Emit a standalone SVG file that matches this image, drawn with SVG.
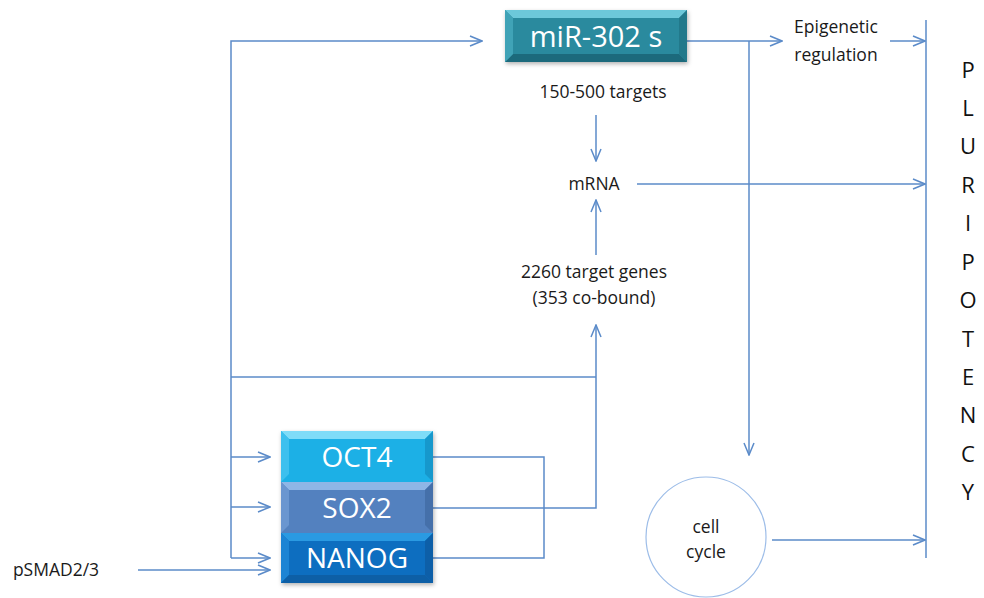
<svg xmlns="http://www.w3.org/2000/svg" width="984" height="598" viewBox="0 0 984 598">
<style>
.ln{fill:none;stroke:#5b8bc9;stroke-width:1.5}
.t{font-family:"Open Sans","Liberation Sans",sans-serif;fill:#1a1a1a;font-size:17.5px;text-anchor:middle}
.big{font-family:"Open Sans","Liberation Sans",sans-serif;fill:#fff;text-anchor:middle}
.pl{font-family:"Open Sans","Liberation Sans",sans-serif;fill:#111;font-size:22px;text-anchor:middle}
</style>
<defs>
<marker id="ah" markerWidth="14" markerHeight="12" refX="13" refY="6" orient="auto" markerUnits="userSpaceOnUse">
<path d="M1,1 L13,6 L1,11" fill="none" stroke="#5b8bc9" stroke-width="1.5"/>
</marker>
<filter id="sh" x="-10%" y="-10%" width="130%" height="140%"><feDropShadow dx="1" dy="2" stdDeviation="2" flood-color="#000" flood-opacity="0.3"/></filter>
</defs>
<rect width="984" height="598" fill="#fff"/>
<g id="connectors">
<path class="ln" d="M231,558 V41 H482" marker-end="url(#ah)"/>
<path class="ln" d="M231,377 H596"/>
<path class="ln" d="M231,457 H270" marker-end="url(#ah)"/>
<path class="ln" d="M231,507 H270" marker-end="url(#ah)"/>
<path class="ln" d="M231,558 H270" marker-end="url(#ah)"/>
<path class="ln" d="M138,570 H270" marker-end="url(#ah)"/>
<path class="ln" d="M433,457 H544 V558 H433"/>
<path class="ln" d="M433,508 H596 V325" marker-end="url(#ah)"/>
<path class="ln" d="M596,255 V200" marker-end="url(#ah)"/>
<path class="ln" d="M596,115 V161" marker-end="url(#ah)"/>
<path class="ln" d="M687,41 H782" marker-end="url(#ah)"/>
<path class="ln" d="M749,41 V455" marker-end="url(#ah)"/>
<path class="ln" d="M890,41 H925" marker-end="url(#ah)"/>
<path class="ln" d="M637,184 H925" marker-end="url(#ah)"/>
<path class="ln" d="M772,540 H925" marker-end="url(#ah)"/>
<path class="ln" d="M926,20 V558"/>
</g>
<g id="mir302">
<g filter="url(#sh)">
<rect x="505" y="10" width="182" height="52" fill="#2c8a9e"/>
<polygon points="505,10 687,10 679,18 513,18" fill="#6cc8da"/>
<polygon points="505,62 687,62 679,54 513,54" fill="#1f6b7c"/>
<polygon points="505,10 513,18 513,54 505,62" fill="#3fa3b7"/>
<polygon points="687,10 679,18 679,54 687,62" fill="#24798b"/>
</g>
<text class="big" x="596" y="47" font-size="29">miR-302 s</text>
</g>
<g id="targets150"><text class="t" x="603" y="98">150-500 targets</text></g>
<g id="mrna"><text class="t" x="594" y="190">mRNA</text></g>
<g id="targets2260">
<text class="t" x="594" y="278">2260 target genes</text>
<text class="t" x="594" y="304">(353 co-bound)</text>
</g>
<g id="epigenetic">
<text class="t" x="836" y="33">Epigenetic</text>
<text class="t" x="836" y="61">regulation</text>
</g>
<g id="tfbox">
<g filter="url(#sh)">
<rect x="281" y="431" width="152" height="51" fill="#1cb0e6"/>
<polygon points="281,431 433,431 425,439 289,439" fill="#7fdcf8"/>
<polygon points="281,431 289,439 289,474 281,482" fill="#3cc0ee"/>
<polygon points="433,431 425,439 425,474 433,482" fill="#1898cc"/>
<rect x="281" y="482" width="152" height="51" fill="#5281bf"/>
<polygon points="281,482 433,482 425,490 289,490" fill="#8fb6e6"/>
<polygon points="281,482 289,490 289,525 281,533" fill="#6a96d0"/>
<polygon points="433,482 425,490 425,525 433,533" fill="#4470aa"/>
<rect x="281" y="533" width="152" height="50" fill="#0a6ec0"/>
<polygon points="281,533 433,533 425,541 289,541" fill="#2b9ae2"/>
<polygon points="281,533 289,541 289,575 281,583" fill="#1a84d4"/>
<polygon points="433,533 425,541 425,575 433,583" fill="#085ea8"/>
<polygon points="281,583 433,583 425,575 289,575" fill="#0a5ea6"/>
</g>
<text class="big" x="357" y="467" font-size="28">OCT4</text>
<text class="big" x="357" y="518" font-size="28">SOX2</text>
<text class="big" x="357" y="568" font-size="28">NANOG</text>
</g>
<g id="psmad"><text class="t" x="56" y="576" font-size="16.5">pSMAD2/3</text></g>
<g id="cellcycle">
<circle cx="706" cy="537" r="60" fill="#fff" stroke="#9dbde8" stroke-width="1.2"/>
<text class="t" x="706" y="533" font-size="16">cell</text>
<text class="t" x="706" y="558" font-size="16">cycle</text>
</g>
<g id="pluripotency">
<text class="pl" x="968" y="78">P</text>
<text class="pl" x="968" y="116">L</text>
<text class="pl" x="968" y="154">U</text>
<text class="pl" x="968" y="193">R</text>
<text class="pl" x="968" y="231">I</text>
<text class="pl" x="968" y="270">P</text>
<text class="pl" x="968" y="308">O</text>
<text class="pl" x="968" y="347">T</text>
<text class="pl" x="968" y="385">E</text>
<text class="pl" x="968" y="423">N</text>
<text class="pl" x="968" y="462">C</text>
<text class="pl" x="968" y="500">Y</text>
</g>
</svg>
